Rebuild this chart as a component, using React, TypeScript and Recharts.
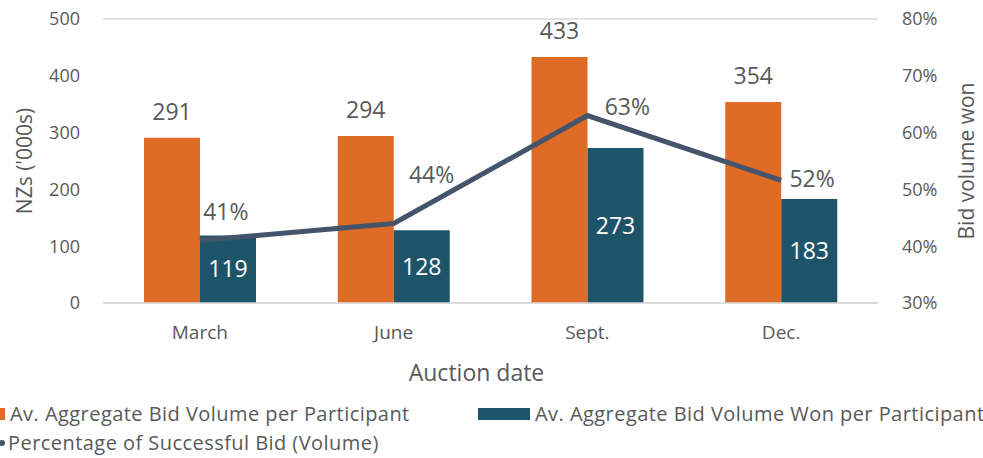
import React from 'react';
import { ComposedChart, Bar, Line, XAxis, YAxis, CartesianGrid, Legend, LabelList } from 'recharts';

const categories = ['March', 'June', 'Sept.', 'Dec.'];
const bidVolume = [291, 294, 433, 354];
const bidVolumeWon = [119, 128, 273, 183];
const successRate = [0.41, 0.44, 0.63, 0.516];
const leftTicks = [0, 100, 200, 300, 400, 500];
const rightTicks = [0.3, 0.4, 0.5, 0.6, 0.7, 0.8];

const data = categories.map((c, i) => ({
    date: c,
    bid: bidVolume[i],
    won: bidVolumeWon[i],
    rate: successRate[i],
}));

const ORANGE = '#DE6B26';
const TEAL = '#1E5469';
const SLATE = '#44546A';
const TEXT = '#595959';
const FONT = '"Open Sans", "Noto Sans", sans-serif';

// hand placed label offsets for the percentage labels
const rateLabelDx = [26, 38, 40, 31];
const rateLabelDy = [-30, -49, -10, -2];

const RateLabel = (props: any) => {
    const { x, y, value, index } = props;
    return (
        <text
            x={x + rateLabelDx[index]}
            y={y + rateLabelDy[index]}
            textAnchor="middle"
            dominantBaseline="central"
            fill={TEXT}
            fontSize={23}
            fontFamily={FONT}
        >
            {Math.round(value * 100) + '%'}
        </text>
    );
};

const renderLegend = () => {
    const row: React.CSSProperties = { display: 'flex', alignItems: 'center', height: 29, whiteSpace: 'nowrap' };
    const txt: React.CSSProperties = { fontFamily: FONT, fontSize: 20, color: TEXT, marginLeft: 5, letterSpacing: 0.45 };
    return (
        <div style={{ position: 'relative', left: -47, top: 1, width: 1100 }}>
            <div style={row}>
                <div style={{ display: 'flex', alignItems: 'center', width: 525 }}>
                    <span style={{ width: 52, height: 12, background: ORANGE, display: 'inline-block' }} />
                    <span style={txt}>Av. Aggregate Bid Volume per Participant</span>
                </div>
                <span style={{ width: 52, height: 12, background: TEAL, display: 'inline-block' }} />
                <span style={txt}>Av. Aggregate Bid Volume Won per Participant</span>
            </div>
            <div style={row}>
                <svg width={52} height={12}>
                    <circle cx={49} cy={6} r={3} fill={SLATE} />
                </svg>
                <span style={{ ...txt, marginLeft: 3 }}>Percentage of Successful Bid (Volume)</span>
            </div>
        </div>
    );
};

export default function App() {
    return (
        <div style={{ position: 'absolute', left: 0, top: 0, width: 983, height: 458, overflow: 'hidden', background: '#fff' }}>
            <ComposedChart width={983} height={458} data={data} margin={{ top: 19, right: 0, left: 0, bottom: 2 }} barGap={0}>
                <CartesianGrid vertical={false} stroke="#D9D9D9" strokeWidth={1.5} />
                <XAxis
                    dataKey="date"
                    height={95}
                    axisLine={{ stroke: '#D9D9D9', strokeWidth: 1.5 }}
                    tickLine={false}
                    tickMargin={17}
                    tick={{ fill: TEXT, fontSize: 19, fontFamily: FONT }}
                    label={{ value: 'Auction date', position: 'insideBottom', offset: 17, dx: -14, fill: TEXT, fontSize: 23, fontFamily: FONT }}
                />
                <YAxis
                    yAxisId="left"
                    width={103}
                    domain={[0, 500]}
                    ticks={leftTicks}
                    axisLine={false}
                    tickLine={false}
                    tickMargin={17}
                    tick={{ fill: TEXT, fontSize: 18, fontFamily: FONT }}
                    label={{ value: "NZs ('000s)", angle: -90, position: 'center', dx: -27, fill: TEXT, fontSize: 21, fontFamily: FONT }}
                />
                <YAxis
                    yAxisId="right"
                    orientation="right"
                    width={105}
                    domain={[0.3, 0.8]}
                    ticks={rightTicks}
                    axisLine={false}
                    tickLine={false}
                    tickMargin={18}
                    tickFormatter={(v: number) => Math.round(v * 100) + '%'}
                    tick={{ fill: TEXT, fontSize: 18, fontFamily: FONT }}
                    label={{ value: 'Bid volume won', angle: -90, position: 'center', dx: 36, fill: TEXT, fontSize: 21, fontFamily: FONT }}
                />
                <Legend verticalAlign="bottom" content={renderLegend} />
                <Bar yAxisId="left" dataKey="bid" fill={ORANGE} barSize={56} isAnimationActive={false}>
                    <LabelList dataKey="bid" position="top" offset={18} fill={TEXT} fontSize={23} fontFamily={FONT} />
                </Bar>
                <Bar yAxisId="left" dataKey="won" fill={TEAL} barSize={56} isAnimationActive={false}>
                    <LabelList dataKey="won" position="center" fill="#FFFFFF" fontSize={23} fontFamily={FONT} />
                </Bar>
                <Line
                    yAxisId="right"
                    dataKey="rate"
                    stroke={SLATE}
                    strokeWidth={5}
                    dot={false}
                    activeDot={false}
                    isAnimationActive={false}
                >
                    <LabelList dataKey="rate" content={RateLabel} />
                </Line>
            </ComposedChart>
        </div>
    );
}
